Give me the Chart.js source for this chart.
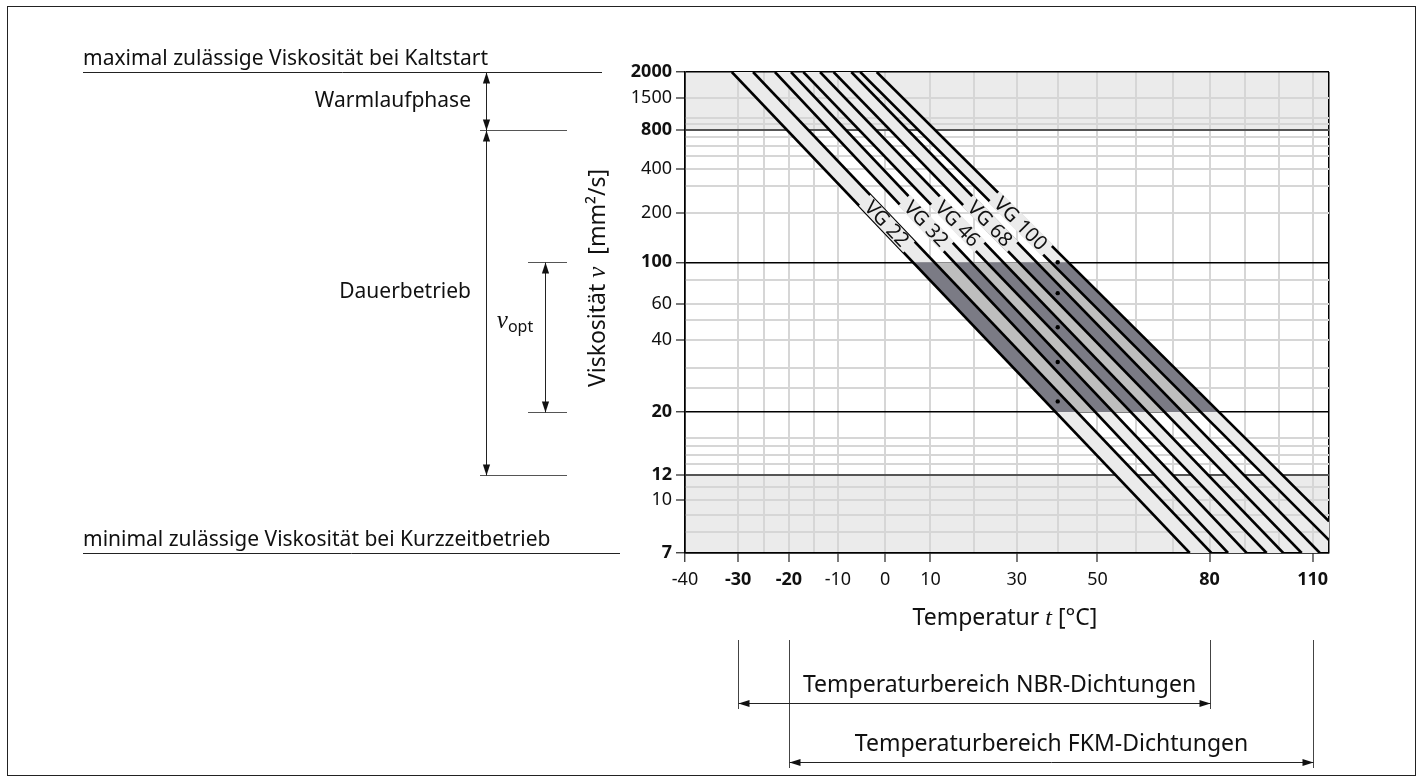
<!DOCTYPE html>
<html lang="de">
<head>
<meta charset="utf-8">
<title>Viskosität / Temperatur</title>
<script src="https://cdn.jsdelivr.net/npm/chart.js@4.4.1/dist/chart.umd.min.js"></script>
<style>
  html, body { margin: 0; background: #fff; }
  canvas { display: block; }
</style>
</head>
<body>
<canvas id="diagram" width="1422" height="782"></canvas>
<script>
// boundary lines of the VG bands (lower + upper line of each grade), left to right
// temperature (°C) where each line leaves the top edge at 2000 mm²/s
const lineTopTemp = [-31.2, -27.1, -22.8, -19.6, -17.1, -13.7, -10.9, -7.2, -5.3, -1.8];
// where each line leaves the plot: temperature (°C) and viscosity (mm²/s)
const lineEndTemp = [74.5, 80.5, 85.2, 90.5, 96.3, 101.2, 106.7, 112.2, 115, 115];
const lineEndVisc = [7, 7, 7, 7, 7, 7, 7, 7, 7.6, 8.6];

const vgLabels = ["VG 22", "VG 32", "VG 46", "VG 68", "VG 100"];
const vgNominal = [22, 32, 46, 68, 100];   // dots at 40 °C
const nominalTemp = 40;
const labelVisc = 170;                     // height of the grade labels

const yGrid = [7, 8, 9, 10, 11, 12, 13, 14, 15, 16, 20, 25, 30, 40, 50, 60, 80, 100,
  200, 300, 400, 500, 600, 700, 800, 900, 1000, 1500, 2000];
const yTickLabels = [7, 10, 12, 20, 40, 60, 100, 200, 400, 800, 1500, 2000];
const yBold = [7, 12, 20, 100, 800, 2000];

const xGrid = [-40, -30, -25, -20, -15, -10, 0, 10, 20, 30, 40, 50, 60, 70, 80, 90, 100, 110, 115];
const xTickLabels = [-40, -30, -20, -10, 0, 10, 30, 50, 80, 110];
const xBold = [-30, -20, 80, 110];

const tempRange = [-40, 115];
const viscRange = [7, 2000];
const warmupRange = [800, 2000];
const continuousRange = [12, 800];
const optRange = [20, 100];
const nbrRange = [-30, 80];
const fkmRange = [-20, 110];

const FONT = '"Noto Sans", "DejaVu Sans", sans-serif';
const SERIF = '"Liberation Serif", "DejaVu Serif", serif';
const BAND = "#ebebeb";
const NONE = "rgba(0,0,0,0)";

// Ubbelohde-Walther axes: log log (v + 0.7) against log of absolute temperature.
// The original sheet draws the part above 1500 mm²/s stretched, so that is copied here.
const walther = v => Math.log10(Math.log10(v + 0.7));
const W = v => v <= 1500 ? walther(v) : walther(1500) + 0.252 * Math.log10(v / 1500);
const K = t => Math.log10(t + 273.15);

const lines = lineTopTemp.map((t, i) => [
  { x: K(t), y: W(viscRange[1]) },
  { x: K(lineEndTemp[i]), y: W(lineEndVisc[i]) }
]);

// point on a (straight) line at a given viscosity
function atVisc(line, v) {
  const [a, b] = line;
  const w = W(v);
  const f = (w - a.y) / (b.y - a.y);
  return { x: a.x + f * (b.x - a.x), y: w };
}

const datasets = [];

// light grey band of every grade
vgLabels.forEach((_, b) => {
  const lo = lines[2 * b], hi = lines[2 * b + 1];
  datasets.push({ data: [lo[0], lo[1], hi[1], hi[0]], backgroundColor: BAND, borderColor: NONE, fill: "shape", order: 5 });
});

// optimum range: grey between the bands, dark inside them
datasets.push({
  data: [atVisc(lines[0], optRange[1]), atVisc(lines[0], optRange[0]),
         atVisc(lines[9], optRange[0]), atVisc(lines[9], optRange[1])],
  backgroundColor: "#bebebe", borderColor: NONE, fill: "shape", order: 4
});
vgLabels.forEach((_, b) => {
  const lo = lines[2 * b], hi = lines[2 * b + 1];
  datasets.push({
    data: [atVisc(lo, optRange[1]), atVisc(lo, optRange[0]), atVisc(hi, optRange[0]), atVisc(hi, optRange[1])],
    backgroundColor: "#7b7b85", borderColor: NONE, fill: "shape", order: 3
  });
});

lines.forEach(l => datasets.push({ data: l, borderColor: "#000", borderWidth: 2.6, fill: false, order: 1 }));

datasets.push({
  data: vgNominal.map(v => ({ x: K(nominalTemp), y: W(v) })),
  showLine: false, pointRadius: 2.2, pointBackgroundColor: "#000", pointBorderWidth: 0, order: 0
});

function runsWidth(ctx, runs) {
  return runs.reduce((s, r) => { ctx.font = r.font; return s + ctx.measureText(r.text).width; }, 0);
}
function drawRuns(ctx, runs, cx, y) {
  let x = cx - runsWidth(ctx, runs) / 2;
  ctx.textAlign = "left";
  runs.forEach(r => {
    ctx.font = r.font;
    ctx.fillText(r.text, x, y + (r.dy || 0));
    x += ctx.measureText(r.text).width;
  });
}
function head(ctx, x, y, a) {
  const L = 11, H = 3.6;
  ctx.beginPath();
  ctx.moveTo(x, y);
  ctx.lineTo(x - L * Math.cos(a) + H * Math.sin(a), y - L * Math.sin(a) - H * Math.cos(a));
  ctx.lineTo(x - L * Math.cos(a) - H * Math.sin(a), y - L * Math.sin(a) + H * Math.cos(a));
  ctx.closePath();
  ctx.fill();
}
function arrow(ctx, x1, y1, x2, y2) {
  ctx.beginPath(); ctx.moveTo(x1, y1); ctx.lineTo(x2, y2); ctx.stroke();
  head(ctx, x1, y1, Math.atan2(y1 - y2, x1 - x2));
  head(ctx, x2, y2, Math.atan2(y2 - y1, x2 - x1));
}
function seg(ctx, x1, y1, x2, y2) {
  ctx.beginPath(); ctx.moveTo(x1, y1); ctx.lineTo(x2, y2); ctx.stroke();
}
const crisp = v => Math.round(v) + 0.5;

const decor = {
  id: "decor",
  beforeDraw(chart) {
    const { ctx, chartArea: a, scales: { y } } = chart;
    ctx.save();
    ctx.fillStyle = "#fff";
    ctx.fillRect(0, 0, chart.width, chart.height);
    ctx.fillStyle = BAND;
    const yTop = y.getPixelForValue(W(warmupRange[1])), yWarm = y.getPixelForValue(W(warmupRange[0]));
    ctx.fillRect(a.left, yTop, a.right - a.left, yWarm - yTop);
    const yLow = y.getPixelForValue(W(continuousRange[0])), yBot = y.getPixelForValue(W(viscRange[0]));
    ctx.fillRect(a.left, yLow, a.right - a.left, yBot - yLow);
    ctx.restore();
  },
  afterDatasetsDraw(chart) {
    const { ctx, scales: { x, y } } = chart;
    const pt = p => ({ x: x.getPixelForValue(p.x), y: y.getPixelForValue(p.y) });
    ctx.save();
    ctx.font = "20px " + FONT;
    ctx.textAlign = "center";
    ctx.textBaseline = "middle";
    vgLabels.forEach((txt, b) => {
      const lo = lines[2 * b], hi = lines[2 * b + 1];
      const p = pt(atVisc(lo, labelVisc)), q = pt(atVisc(hi, labelVisc));
      const s = pt(lo[0]), e = pt(lo[1]);
      ctx.save();
      ctx.translate((p.x + q.x) / 2, p.y);
      ctx.rotate(Math.atan2(e.y - s.y, e.x - s.x));
      const w = ctx.measureText(txt).width;
      ctx.fillStyle = BAND;
      ctx.fillRect(-w / 2 - 5, -8, w + 10, 16);
      ctx.fillStyle = "#111";
      ctx.fillText(txt, 0, 1);
      ctx.restore();
    });
    ctx.restore();
  },
  afterDraw(chart) {
    const { ctx, scales: { x, y } } = chart;
    const py = v => y.getPixelForValue(W(v));
    const px = t => x.getPixelForValue(K(t));
    const f21 = "21px " + FONT;
    const f23 = "23px " + FONT;
    ctx.save();
    ctx.strokeStyle = "#222";
    ctx.fillStyle = "#111";
    ctx.lineWidth = 1;

    ctx.strokeRect(7.5, 6.5, 1408, 769);

    const yMax = crisp(py(viscRange[1])), y800 = crisp(py(continuousRange[1])), y12 = crisp(py(continuousRange[0]));
    const y100 = crisp(py(optRange[1])), y20 = crisp(py(optRange[0])), yMin = crisp(py(viscRange[0]));

    // left side annotations
    ctx.font = f21;
    ctx.textBaseline = "alphabetic";
    ctx.textAlign = "left";
    ctx.fillText("maximal zulässige Viskosität bei Kaltstart", 83, yMax - 8);
    ctx.fillText("minimal zulässige Viskosität bei Kurzzeitbetrieb", 83, yMin - 8);
    seg(ctx, 83, yMax, 602, yMax);
    seg(ctx, 83, yMin, 620, yMin);

    ctx.textAlign = "right";
    ctx.textBaseline = "middle";
    ctx.fillText("Warmlaufphase", 471, (yMax + y800) / 2);
    ctx.fillText("Dauerbetrieb", 471, (y800 + y12) / 2 - 11);

    ctx.strokeStyle = "#555";
    seg(ctx, 480, y800, 567, y800);
    seg(ctx, 480, y12, 567, y12);
    seg(ctx, 528, y100, 567, y100);
    seg(ctx, 528, y20, 567, y20);
    ctx.strokeStyle = "#222";
    arrow(ctx, 486.5, yMax, 486.5, y800);
    arrow(ctx, 486.5, y800, 486.5, y12);
    arrow(ctx, 545.5, y100, 545.5, y20);

    ctx.textBaseline = "alphabetic";
    drawRuns(ctx, [
      { text: "ν", font: "italic 25px " + SERIF },
      { text: "opt", font: "16px " + FONT, dy: 4 }
    ], 515, (y100 + y20) / 2 - 10);

    // axis titles
    ctx.save();
    ctx.translate(605, 278);
    ctx.rotate(-Math.PI / 2);
    drawRuns(ctx, [
      { text: "Viskosität ", font: "23px " + FONT },
      { text: "ν", font: "italic 25px " + SERIF },
      { text: "  [mm²/s]", font: "23px " + FONT }
    ], 0, 0);
    ctx.restore();
    drawRuns(ctx, [
      { text: "Temperatur ", font: "23px " + FONT },
      { text: "t", font: "italic 24px " + SERIF },
      { text: " [°C]", font: "23px " + FONT }
    ], 1005, 625);

    // seal temperature ranges
    const xa = crisp(px(nbrRange[0])), xb = crisp(px(nbrRange[1]));
    const xc = crisp(px(fkmRange[0])), xd = crisp(px(fkmRange[1]));
    ctx.strokeStyle = "#444";
    seg(ctx, xa, 640, xa, 709);
    seg(ctx, xb, 640, xb, 709);
    seg(ctx, xc, 640, xc, 768);
    seg(ctx, xd, 640, xd, 768);
    ctx.strokeStyle = "#222";
    arrow(ctx, xa, 703.5, xb, 703.5);
    arrow(ctx, xc, 762.5, xd, 762.5);
    ctx.font = f23;
    ctx.textAlign = "center";
    ctx.textBaseline = "middle";
    ctx.fillText("Temperaturbereich NBR-Dichtungen", (xa + xb) / 2 + 25, 685);
    ctx.fillText("Temperaturbereich FKM-Dichtungen", (xc + xd) / 2, 744);
    ctx.restore();
  }
};

const yLine = v => [100, 20, 2000, 7].includes(v) ? "#000" : ([800, 12].includes(v) ? "#555" : "#d6d6d6");
const xLine = t => [-40, 115].includes(t) ? "#000" : "#d6d6d6";

new Chart(document.getElementById("diagram"), {
  type: "line",
  data: { datasets },
  plugins: [decor],
  options: {
    responsive: false,
    animation: false,
    events: [],
    layout: { padding: { left: 585, right: 93, top: 72, bottom: 169 } },
    elements: {
      point: { radius: 0 },
      line: { tension: 0, borderWidth: 0 }
    },
    plugins: { legend: { display: false }, tooltip: { enabled: false } },
    scales: {
      x: {
        type: "linear",
        min: K(tempRange[0]),
        max: K(tempRange[1]),
        afterBuildTicks: s => { s.ticks = xGrid.map(t => ({ value: K(t) })); },
        afterFit: s => { s.height = 60; },
        grid: {
          color: c => xLine(xGrid[c.index]),
          lineWidth: c => [-40, 115].includes(xGrid[c.index]) ? 1.5 : 2,
          tickLength: 9,
          tickWidth: 1.3,
          tickColor: c => xTickLabels.includes(xGrid[c.index]) ? "#333" : NONE
        },
        border: { color: "#000", width: 1.5 },
        ticks: {
          autoSkip: false,
          maxRotation: 0,
          padding: 7,
          color: "#111",
          font: c => ({ family: FONT, size: 18, weight: xBold.includes(xGrid[c.index]) ? "bold" : "normal" }),
          callback: (v, i) => xTickLabels.includes(xGrid[i]) ? String(xGrid[i]) : ""
        }
      },
      y: {
        type: "linear",
        min: W(viscRange[0]),
        max: W(viscRange[1]),
        afterBuildTicks: s => { s.ticks = yGrid.map(v => ({ value: W(v) })); },
        afterFit: s => { s.width = 100; },
        grid: {
          color: c => yLine(yGrid[c.index]),
          lineWidth: c => [100, 20, 2000, 7].includes(yGrid[c.index]) ? 1.5 : 2,
          tickLength: 9,
          tickWidth: 1.3,
          tickColor: c => yTickLabels.includes(yGrid[c.index]) ? "#333" : NONE
        },
        border: { color: "#000", width: 1.5 },
        ticks: {
          autoSkip: false,
          padding: 4,
          color: "#111",
          font: c => ({ family: FONT, size: 18, weight: yBold.includes(yGrid[c.index]) ? "bold" : "normal" }),
          callback: (v, i) => yTickLabels.includes(yGrid[i]) ? String(yGrid[i]) : ""
        }
      }
    }
  }
});
</script>
</body>
</html>
